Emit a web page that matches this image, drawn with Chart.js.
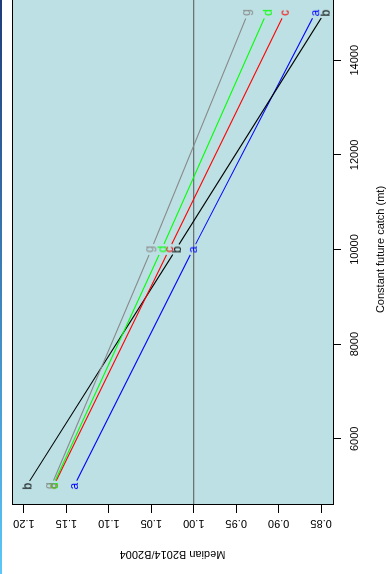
<!DOCTYPE html>
<html>
<head>
<meta charset="utf-8">
<script src="https://cdn.jsdelivr.net/npm/chart.js@4.4.1/dist/chart.umd.min.js"></script>
<style>
  html, body { margin: 0; padding: 0; background: #fff; }
  body { width: 386px; height: 574px; overflow: hidden; position: relative; }
  #strip { position: absolute; left: 0; top: 0; width: 2px; height: 574px; z-index: 2;
           background: linear-gradient(#1f3b7a, #5cc7f8); }
  /* the plot is drawn the normal way, then turned a quarter turn to the left */
  #chart { position: absolute; left: 0; top: 0; transform-origin: 0 0;
           transform: translate(0, 574px) rotate(-90deg); }
</style>
</head>
<body>
<div id="strip"></div>
<canvas id="chart" width="600" height="386"></canvas>
<script>
// catch levels (mt) and median B2014/B2004 for each run
const catches = [5000, 10000, 15000];
const runA = [1.141, 1.001, 0.857];   // blue
const runB = [1.197, 1.021, 0.846];   // black
const runC = [1.165, 1.029, 0.893];   // red
const runD = [1.166, 1.038, 0.914];   // green
const runG = [1.168, 1.050, 0.936];   // grey

const catchTicks = [6000, 8000, 10000, 12000, 14000];
const ratioTicks = [0.85, 0.90, 0.95, 1.00, 1.05, 1.10, 1.15, 1.20];
const catchRange = [4600, 15400];
const ratioRange = [0.836, 1.214];
const refLevel = 1.00;

const FONT = '"Liberation Sans", Arial, Helvetica, sans-serif';
Chart.defaults.font.family = FONT;
Chart.defaults.color = '#000';

// R type="b": letter at each point, line broken around it
const GAP = 6;
function segLen(ctx) {
    return Math.hypot(ctx.p1.x - ctx.p0.x, ctx.p1.y - ctx.p0.y);
}

function letter(ch, color) {
    const c = document.createElement('canvas');
    c.width = 16; c.height = 16;
    const g = c.getContext('2d');
    g.font = '12px ' + FONT;
    g.fillStyle = color;
    const m = g.measureText(ch);
    const x = 8 + (m.actualBoundingBoxLeft - m.actualBoundingBoxRight) / 2;
    const y = 8 + (m.actualBoundingBoxAscent - m.actualBoundingBoxDescent) / 2;
    g.fillText(ch, x, y);
    return c;
}

function run(values, ch, color) {
    return {
        data: catches.map((c, i) => ({ x: c, y: values[i] })),
        borderColor: color,
        borderWidth: 1.1,
        pointStyle: letter(ch, color),
        pointRadius: 3,
        tension: 0,
        order: 0,
        segment: {
            borderDash: ctx => { const L = segLen(ctx); return [Math.max(L - 2 * GAP, 0), 2 * GAP]; },
            borderDashOffset: ctx => segLen(ctx) - GAP
        }
    };
}

// plot background, box and the turned ratio labels
const frame = {
    id: 'frame',
    beforeDraw(chart) {
        const { ctx, chartArea: a } = chart;
        ctx.save();
        ctx.fillStyle = '#bce0e3';
        ctx.fillRect(a.left, a.top, a.right - a.left, a.bottom - a.top);
        ctx.restore();
    },
    afterDraw(chart) {
        const { ctx, chartArea: a, scales } = chart;
        ctx.save();
        ctx.strokeStyle = '#000';
        ctx.lineWidth = 1;
        ctx.strokeRect(a.left + 0.5, a.top + 0.5, a.right - a.left, a.bottom - a.top);
        ctx.fillStyle = '#000';
        ctx.font = '11px ' + FONT;
        ctx.textAlign = 'center';
        ctx.textBaseline = 'alphabetic';
        const ys = scales.y;
        ys.ticks.forEach(t => {
            const py = ys.getPixelForValue(t.value);
            ctx.save();
            ctx.translate(a.left - 15.5, py);
            ctx.rotate(-Math.PI / 2);
            ctx.fillText(t.value.toFixed(2), 0, 0);
            ctx.restore();
        });
        ctx.restore();
    }
};

new Chart(document.getElementById('chart'), {
    type: 'line',
    data: {
        datasets: [
            {
                data: catchRange.map(c => ({ x: c, y: refLevel })),
                borderColor: '#555555',
                borderWidth: 1,
                pointRadius: 0,
                order: 10
            },
            run(runG, 'g', '#888888'),
            run(runD, 'd', '#00ff00'),
            run(runC, 'c', '#ff0000'),
            run(runB, 'b', '#000000'),
            run(runA, 'a', '#0000ff')
        ]
    },
    options: {
        responsive: false,
        devicePixelRatio: 1,
        animation: false,
        layout: { padding: { left: 0, right: 20, top: 12, bottom: 0 } },
        plugins: { legend: { display: false }, tooltip: { enabled: false } },
        scales: {
            x: {
                type: 'linear',
                position: 'bottom',
                min: catchRange[0],
                max: catchRange[1],
                afterBuildTicks: s => { s.ticks = catchTicks.map(v => ({ value: v })); },
                afterFit: s => { s.height = 53; },
                ticks: { color: '#000', font: { size: 11 }, padding: 7, maxRotation: 0,
                         callback: v => String(v) },
                grid: { drawOnChartArea: false, tickLength: 8, tickColor: '#000' },
                border: { display: false },
                title: { display: true, text: 'Constant future catch (mt)', color: '#000',
                         font: { size: 11, lineHeight: 1 }, padding: { top: 0, bottom: 0 } }
            },
            y: {
                type: 'linear',
                position: 'left',
                min: ratioRange[0],
                max: ratioRange[1],
                afterBuildTicks: s => { s.ticks = ratioTicks.map(v => ({ value: v })); },
                afterFit: s => { s.width = 69; },
                ticks: { display: false },
                grid: { drawOnChartArea: false, tickLength: 8, tickColor: '#000' },
                border: { display: false },
                title: { display: true, text: 'Median B2014/B2004', color: '#000',
                         font: { size: 11, lineHeight: 1 }, padding: { top: 14.5, bottom: 0 } }
            }
        }
    },
    plugins: [frame]
});
</script>
</body>
</html>
